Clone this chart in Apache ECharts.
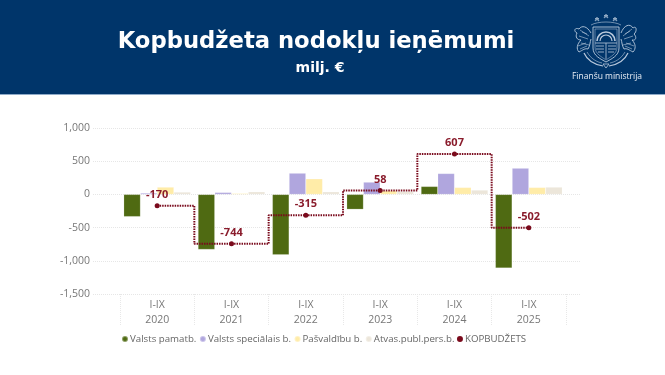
<!DOCTYPE html>
<html>
<head>
<meta charset="utf-8">
<style>
  html, body { margin: 0; padding: 0; background: #fff; }
  #chart { width: 665px; height: 375px; }
</style>
<script src="https://cdn.jsdelivr.net/npm/echarts@6/dist/echarts.min.js"></script>
</head>
<body>
<div id="chart"></div>
<script>
var periods = ['I-IX', 'I-IX', 'I-IX', 'I-IX', 'I-IX', 'I-IX'];
var years = ['2020', '2021', '2022', '2023', '2024', '2025'];
var pamatb = [-335, -830, -910, -225, 120, -1110];
var specialais = [20, 30, 320, 185, 315, 395];
var pasvaldibu = [110, 15, 235, 55, 105, 105];
var atvasPubl = [35, 40, 40, 43, 65, 110];
var kopbudzets = [-170, -744, -315, 58, 607, -502];
var yTicks = [-1500, 1000, 500];

var categories = years.map(function (y, i) { return periods[i] + '\n' + y; });
var myChart = echarts.init(document.getElementById('chart'));

var emblemColor = '#b9c9dc';
var emblemCount = 0;

function emblemLine (d, w) {
  var name = 'emblem' + (emblemCount++);
  echarts.graphic.registerShape(name, echarts.graphic.extendPath(d, {}));
  return {type: name, style: {fill: 'none', stroke: emblemColor, lineWidth: w || 0.7}};
}

function barSeries (name, data, color) {
  return {
    name: name, type: 'bar', data: data, xAxisIndex: 1, yAxisIndex: 1,
    barGap: 0, barCategoryGap: '10%',
    itemStyle: {color: color, borderColor: 'rgba(255,255,255,0.35)', borderWidth: 0.5}
  };
}

var option = {
  animation: false,
  backgroundColor: '#fff',
  textStyle: {fontFamily: '"Open Sans", sans-serif'},
  title: [
    {text: 'Kopbudžeta nodokļu ieņēmumi', left: 311, top: 26, textAlign: 'center',
      textStyle: {color: '#fff', fontFamily: '"DejaVu Sans"', fontWeight: 'bold', fontSize: 22.7}},
    {text: 'milj. €', left: 315, top: 56, textAlign: 'center',
      textStyle: {color: '#fff', fontFamily: '"DejaVu Sans"', fontWeight: 'bold', fontSize: 14}},
    {text: 'Finanšu ministrija', left: 602, top: 67, textAlign: 'center',
      textStyle: {color: '#e8eef5', fontFamily: '"Open Sans"', fontWeight: 'normal', fontSize: 8.5}}
  ],
  graphic: [
    {type: 'rect', z: -10, shape: {x: 0, y: 0, width: 665, height: 94}, style: {fill: '#00356a'}},
    {type: 'rect', z: -10, shape: {x: 0, y: 94, width: 665, height: 1}, style: {fill: '#8fabc9'}},
    {type: 'group', x: 606, y: 42, z: -5, children: [
      // vairogs
      emblemLine('M-13,-15 L13,-15 L13,6 C13,14 5,17 0,20 C-5,17 -13,14 -13,6 Z', 0.9),
      emblemLine('M-11,-13 L11,-13 L11,5 C11,12 4,15 0,18 C-4,15 -11,12 -11,5 Z', 0.5),
      // saule
      emblemLine('M-9,-1 A9,9 0 0 1 9,-1', 1.6),
      emblemLine('M-6,-1 A6,6 0 0 1 6,-1', 1.2),
      emblemLine('M-11,1 L11,1', 0.8),
      emblemLine('M-10,4 L-2,4 M-10,7 L-2,7 M-8,10 L-2,10 M2,4 L10,4 M2,7 L10,7 M2,10 L8,10', 0.8),
      emblemLine('M0,1 L0,17', 0.8),
      // zvaigznes
      emblemLine('M-11,-21 L-9,-25 L-7,-21 L-11,-23.5 L-7,-23.5 Z M-2,-24 L0,-28 L2,-24 L-2,-26.5 L2,-26.5 Z M7,-21 L9,-25 L11,-21 L7,-23.5 L11,-23.5 Z', 0.6),
      emblemLine('M-15,-17 C-8,-21 8,-21 15,-17', 0.6),
      // lauva un grifs
      emblemLine('M-15,-9 C-19,-16 -24,-17 -27,-13 C-31,-15 -33,-11 -29,-9 C-31,-5 -29,-2 -25,-2 C-29,2 -30,7 -27,10 C-23,8 -21,6 -18,7 C-16,4 -16,0 -15,-3', 0.9),
      emblemLine('M-24,-10 L-19,-8 M-27,-6 L-18,-3 M-25,1 L-17,3 M-26,-12 L-17,-6 M-28,4 L-20,1 M-26,7 L-19,4', 0.6),
      emblemLine('M15,-9 C18,-17 24,-19 27,-14 C31,-17 31,-10 28,-8 C31,-5 30,-1 26,-2 C30,2 30,7 27,10 C23,8 21,6 18,7 C16,4 16,0 15,-3', 0.9),
      emblemLine('M24,-11 L19,-8 M27,-6 L18,-3 M25,1 L17,3 M26,-13 L17,-6 M28,4 L20,1 M26,7 L19,4', 0.6),
      // zari
      emblemLine('M-22,11 C-18,20 -9,23 -3,24 M22,11 C18,20 9,23 3,24', 1.2),
      emblemLine('M-19,10 C-15,17 -9,20 -4,21 M19,10 C15,17 9,20 4,21', 0.6),
      emblemLine('M-3,22 L3,22 L0,26 Z', 0.8)
    ]}
  ],
  legend: {
    left: 116, top: 329, itemWidth: 6, itemHeight: 6, itemGap: 2.5,
    icon: 'circle',
    data: ['Valsts pamatb.', 'Valsts speciālais b.', 'Pašvaldību b.', 'Atvas.publ.pers.b.', 'KOPBUDŽETS'],
    textStyle: {color: '#666', fontSize: 9.7, padding: [0, 0, 0, -3], fontFamily: '"Open Sans"'}
  },
  grid: [
    {left: 93, right: 85, top: 128, height: 166},   // tikai horizontālajām līnijām
    {left: 120, width: 446, top: 128, height: 166}
  ],
  xAxis: [
    {type: 'category', gridIndex: 0, data: categories, show: false},
    {
      type: 'category', gridIndex: 1, data: categories, position: 'bottom',
      axisLine: {show: false, onZero: false},
      axisTick: {show: true, length: 32, lineStyle: {color: '#e8e8e8', type: 'dotted', width: 1}},
      axisLabel: {color: '#777', fontSize: 10.5, lineHeight: 15, margin: 4, interval: 0}
    }
  ],
  yAxis: [
    {
      type: 'value', gridIndex: 0, min: yTicks[0], max: yTicks[1], interval: yTicks[2],
      axisLine: {show: false}, axisTick: {show: false},
      axisLabel: {
        color: '#777', fontSize: 10.5, margin: 3,
        formatter: function (v) { return v.toLocaleString('en-US'); }
      },
      splitLine: {show: true, lineStyle: {color: '#e6e6e6', type: 'dotted', width: 1}}
    },
    {
      type: 'value', gridIndex: 1, min: yTicks[0], max: yTicks[1], interval: yTicks[2],
      axisLine: {show: false}, axisTick: {show: false}, axisLabel: {show: false}, splitLine: {show: false}
    }
  ],
  series: [
    barSeries('Valsts pamatb.', pamatb, '#4f6a12'),
    barSeries('Valsts speciālais b.', specialais, '#b0a6de'),
    barSeries('Pašvaldību b.', pasvaldibu, '#ffeca8'),
    barSeries('Atvas.publ.pers.b.', atvasPubl, '#ece6da'),
    {
      name: 'KOPBUDŽETS', type: 'line', data: kopbudzets, xAxisIndex: 1, yAxisIndex: 1,
      step: 'middle', symbol: 'circle', symbolSize: 5, z: 5,
      itemStyle: {color: '#7a0a1c'},
      lineStyle: {color: '#7a0a1c', type: [1.5, 1], width: 2},
      label: {
        show: true, position: 'top', distance: 3, color: '#8a1c2c',
        fontWeight: 'bold', fontSize: 11, fontFamily: '"Open Sans"'
      }
    }
  ]
};

myChart.setOption(option);
</script>
</body>
</html>
